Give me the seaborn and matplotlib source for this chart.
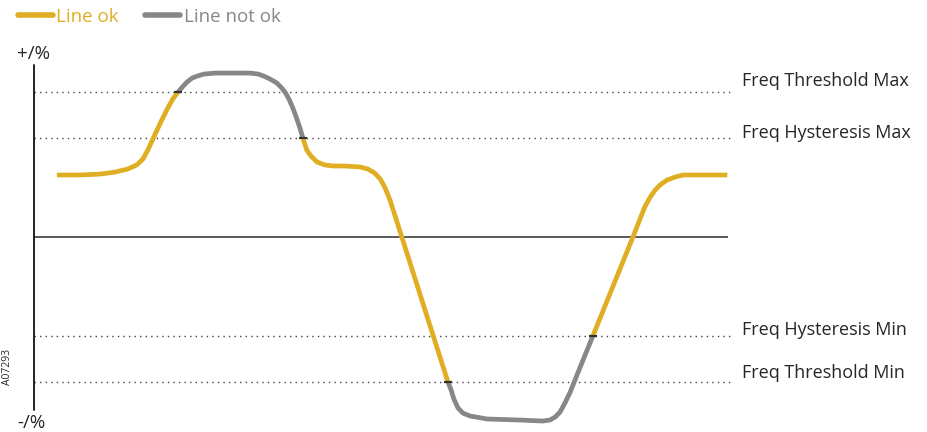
import pandas as pd
import matplotlib.pyplot as plt
import seaborn as sns
from matplotlib.lines import Line2D

# frequency deviation trace, time 0-100, deviation in %
seg1_t = [3.3, 6.6, 9.5, 11.7, 13.5, 14.8, 15.7, 16.4, 17.2, 18.2, 19.2, 20.0, 20.75]
seg1_y = [4.28, 4.28, 4.34, 4.48, 4.69, 4.97, 5.38, 6.0, 6.83, 7.86, 8.83, 9.52, 10.0]

seg2_t = [20.75, 21.5, 22.05, 22.8, 23.5, 24.5, 26.1, 29.0, 31.1, 32.3, 33.1, 34.0, 35.0, 35.7, 36.3, 36.8,
          37.3, 37.8, 38.3, 38.76]
seg2_y = [10.0, 10.41, 10.69, 10.97, 11.1, 11.24, 11.31, 11.31, 11.31, 11.24, 11.1, 10.9, 10.62, 10.28, 9.9,
          9.45, 8.9, 8.25, 7.55, 6.8]

seg3_t = [38.76, 39.3, 39.9, 40.8, 41.9, 43.1, 44.8, 47.0, 48.1, 49.1, 49.9, 50.6, 51.3, 53.0, 56.8, 59.65]
seg3_y = [6.8, 6.0, 5.59, 5.17, 4.97, 4.9, 4.9, 4.83, 4.69, 4.41, 4.0, 3.38, 2.55, 0.0, -5.72, -10.0]

seg4_t = [59.65, 60.1, 60.5, 61.1, 61.8, 62.8, 65.3, 70.0, 73.3, 74.35, 75.1, 75.8, 76.5, 77.2, 78.7, 80.55]
seg4_y = [-10.0, -10.55, -11.17, -11.79, -12.14, -12.34, -12.55, -12.62, -12.69, -12.62, -12.41, -12.07,
          -11.45, -10.76, -8.97, -6.8]

seg5_t = [80.55, 86.3, 88.0, 88.8, 89.5, 90.2, 91.2, 92.4, 93.5, 96.0, 99.9]
seg5_y = [-6.8, 0.0, 2.07, 2.76, 3.24, 3.59, 3.93, 4.14, 4.28, 4.28, 4.28]

seg_status = ['ok', 'not ok', 'ok', 'not ok', 'ok']

levels = [10.0, 6.8, -6.8, -10.0]
level_names = ['Freq Threshold Max', 'Freq Hysteresis Max', 'Freq Hysteresis Min', 'Freq Threshold Min']

switch_t = [20.75, 38.76, 59.65, 80.55]
switch_y = [10.0, 6.8, -10.0, -6.8]

YELLOW = '#E0AE22'
GREY = '#87878A'
TXT = '#262626'

frames = []
for i, (t, y) in enumerate([(seg1_t, seg1_y), (seg2_t, seg2_y), (seg3_t, seg3_y),
                            (seg4_t, seg4_y), (seg5_t, seg5_y)]):
    frames.append(pd.DataFrame({'t': t, 'y': y, 'seg': i, 'status': seg_status[i]}))
df = pd.concat(frames, ignore_index=True)

sns.set_style('white')
plt.rcParams['font.family'] = ['Open Sans', 'DejaVu Sans']

W, H = 928, 432
fig = plt.figure(figsize=(W / 100, H / 100), dpi=100)
ax = fig.add_axes([34 / W, (H - 428) / H, 694 / W, 368 / H])
ax.set_xlim(0, 100)
ax.set_ylim(-13.17, 12.21)
ax.axis('off')

# threshold / hysteresis guides
for lv in levels:
    ax.plot([0, 100.3], [lv, lv], color='#444444', lw=1.0, ls=(0, (1, 3)), clip_on=False, zorder=1)

# axes lines
ax.plot([0, 100], [0, 0], color='#5a5a5a', lw=1.4, zorder=1)
ax.plot([0, 0], [-11.93, 11.86], color='#111111', lw=1.3, clip_on=False, zorder=1)

sns.lineplot(data=df, x='t', y='y', hue='status', units='seg', estimator=None, sort=False,
             palette={'ok': YELLOW, 'not ok': GREY}, lw=3.4, legend=False, ax=ax, zorder=3)
for ln in ax.lines[6:]:
    ln.set_solid_capstyle('butt')
    ln.set_solid_joinstyle('round')
    ln.set_clip_on(False)

ax.plot(switch_t, switch_y, ls='none', marker='_', ms=6, mew=1.6, color='#333333', zorder=4, clip_on=False)

# level labels
label_py = [81, 133, 330, 373]
for name, py in zip(level_names, label_py):
    fig.text(742 / W, 1 - py / H, name, fontsize=13, color=TXT, va='center', ha='left')

fig.text(17 / W, 1 - 54 / H, '+/%', fontsize=13.5, color=TXT, va='center', ha='left')
fig.text(17 / W, 1 - 423 / H, '-/%', fontsize=13.5, color=TXT, va='center', ha='left')
fig.text(8 / W, 1 - 367 / H, 'A07293', fontsize=7.5, color=TXT, rotation=90, va='center', ha='center')

handles = [Line2D([], [], color=YELLOW, lw=4), Line2D([], [], color=GREY, lw=4)]
leg = fig.legend(handles, ['Line ok', 'Line not ok'], loc='center left', bbox_to_anchor=(18 / W, 1 - 17 / H),
                 ncol=2, frameon=False, fontsize=13.5, handlelength=1.85, handletextpad=0.2,
                 columnspacing=1.4, borderaxespad=0, borderpad=0)
for txt, c in zip(leg.get_texts(), [YELLOW, GREY]):
    txt.set_color(c)

plt.savefig('out.png', dpi=100)
